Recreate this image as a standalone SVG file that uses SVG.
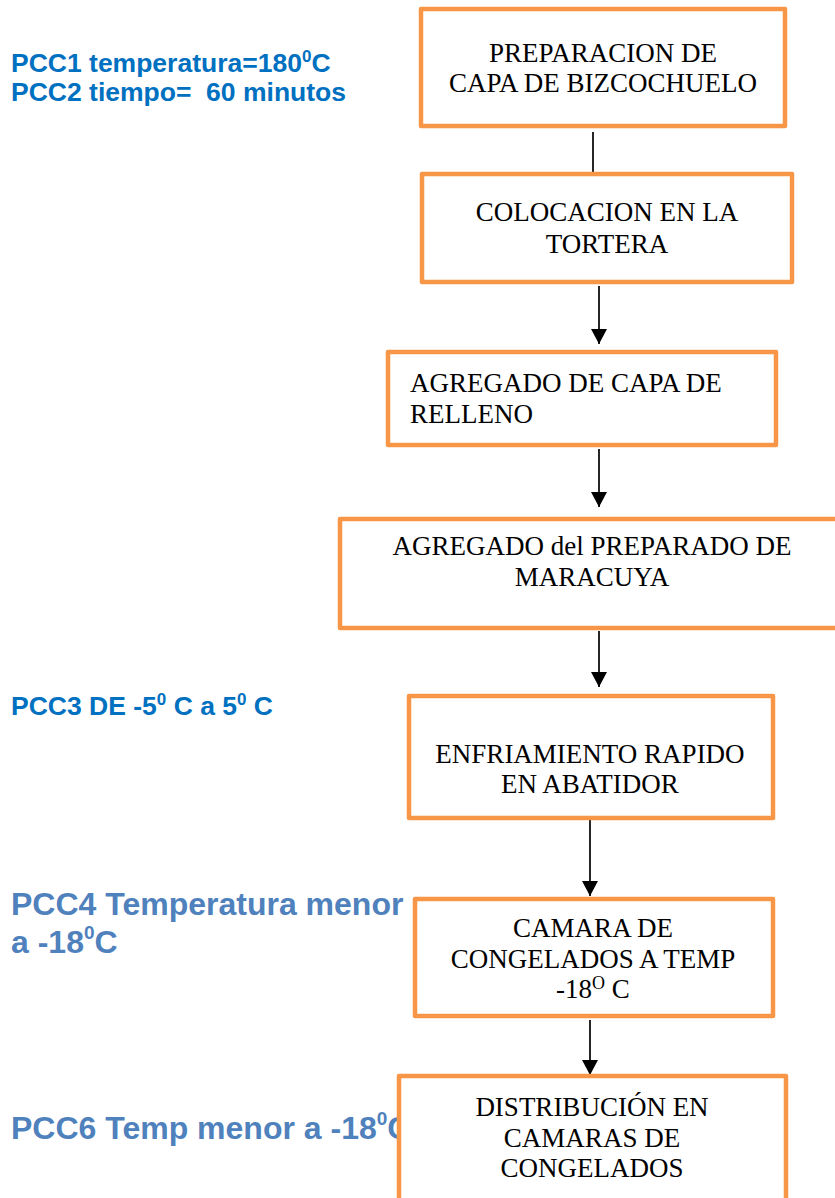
<svg xmlns="http://www.w3.org/2000/svg" width="835" height="1198" viewBox="0 0 835 1198">
<style>
.box{fill:#ffffff;stroke:#F79646;stroke-width:4.5;stroke-linejoin:round}
.bt{font-family:"Liberation Serif","Times New Roman",serif;font-size:27px;fill:#000000;text-anchor:middle}
.btl{font-family:"Liberation Serif","Times New Roman",serif;font-size:27px;fill:#000000}
.pa{font-family:"Liberation Sans",Arial,sans-serif;font-weight:bold;font-size:26.5px;fill:#0070C0}
.pb{font-family:"Liberation Sans",Arial,sans-serif;font-weight:bold;font-size:32px;fill:#4F81BD}
.con{stroke:#000000;stroke-width:1.7;fill:none}
</style>
<defs>
<marker id="arr" markerUnits="userSpaceOnUse" viewBox="0 0 15 16" refX="15" refY="8" markerWidth="15" markerHeight="16" orient="auto">
<path d="M0,0 L15,8 L0,16 z" fill="#000000"/>
</marker>
</defs>
<rect width="835" height="1198" fill="#ffffff"/>
<g id="annotations">
<text class="pa" x="11" y="72">PCC1 temperatura=180<tspan font-size="17" dy="-10">0</tspan><tspan dy="10">C</tspan></text>
<text class="pa" x="11" y="101" xml:space="preserve">PCC2 tiempo=  60 minutos</text>
<text class="pa" x="11" y="715">PCC3 DE -5<tspan font-size="17" dy="-10">0</tspan><tspan dy="10"> C a 5</tspan><tspan font-size="17" dy="-10">0</tspan><tspan dy="10"> C</tspan></text>
<text class="pb" x="11" y="915">PCC4 Temperatura menor</text>
<text class="pb" x="11" y="953">a -18<tspan font-size="19" dy="-14">0</tspan><tspan dy="14">C</tspan></text>
<text class="pb" x="11" y="1139">PCC6 Temp menor a -18<tspan font-size="19" dy="-14">0</tspan><tspan dy="14">C</tspan></text>
</g>
<g id="connectors">
<line class="con" x1="593" y1="132" x2="593" y2="173"/>
<line class="con" x1="599" y1="286" x2="599" y2="344" marker-end="url(#arr)"/>
<line class="con" x1="599" y1="449" x2="599" y2="507" marker-end="url(#arr)"/>
<line class="con" x1="599" y1="631" x2="599" y2="687" marker-end="url(#arr)"/>
<line class="con" x1="590" y1="820" x2="590" y2="896" marker-end="url(#arr)"/>
<line class="con" x1="590" y1="1020" x2="590" y2="1075" marker-end="url(#arr)"/>
</g>
<g id="node1">
<rect class="box" x="421" y="9" width="364" height="117"/>
<text class="bt" x="603" y="62">PREPARACION DE</text>
<text class="bt" x="603" y="92">CAPA DE BIZCOCHUELO</text>
</g>
<g id="node2">
<rect class="box" x="422" y="174" width="370" height="108"/>
<text class="bt" x="607" y="221">COLOCACION EN LA</text>
<text class="bt" x="607" y="253">TORTERA</text>
</g>
<g id="node3">
<rect class="box" x="388" y="352" width="388" height="93"/>
<text class="btl" x="410" y="392">AGREGADO DE CAPA DE</text>
<text class="btl" x="410" y="423">RELLENO</text>
</g>
<g id="node4">
<rect class="box" x="340" y="519" width="500" height="109"/>
<text class="bt" x="592" y="555">AGREGADO del PREPARADO DE</text>
<text class="bt" x="592" y="586">MARACUYA</text>
</g>
<g id="node5">
<rect class="box" x="409" y="696" width="364" height="122"/>
<text class="bt" x="590" y="763">ENFRIAMIENTO RAPIDO</text>
<text class="bt" x="590" y="793">EN ABATIDOR</text>
</g>
<g id="node6">
<rect class="box" x="415" y="899" width="358" height="117"/>
<text class="bt" x="593" y="937">CAMARA DE</text>
<text class="bt" x="593" y="968">CONGELADOS A TEMP</text>
<text class="bt" x="593" y="998">-18<tspan font-size="18" dy="-9">O</tspan><tspan dy="9"> C</tspan></text>
</g>
<g id="node7">
<rect class="box" x="399" y="1076" width="387" height="140"/>
<text class="bt" x="592" y="1116">DISTRIBUCIÓN EN</text>
<text class="bt" x="592" y="1147">CAMARAS DE</text>
<text class="bt" x="592" y="1177">CONGELADOS</text>
</g>
</svg>
